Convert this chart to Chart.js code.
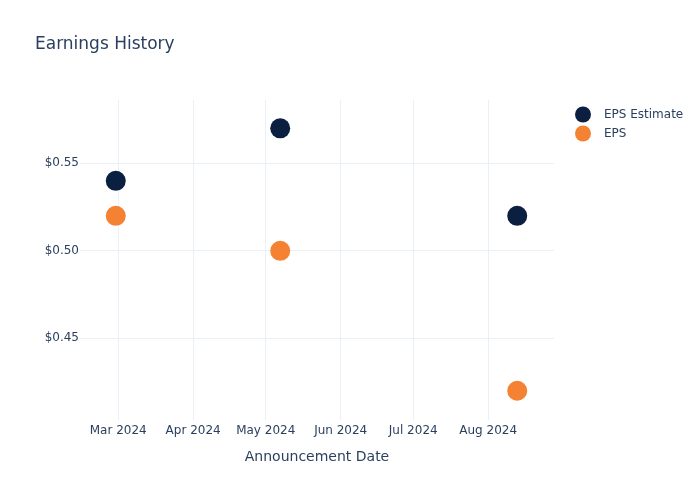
<!DOCTYPE html>
<html>
<head>
<meta charset="utf-8">
<script src="https://cdn.jsdelivr.net/npm/chart.js@4.4.1/dist/chart.umd.min.js"></script>
<style>
  html, body { margin: 0; padding: 0; background: #ffffff; }
  #wrap { width: 700px; height: 500px; position: relative; }
</style>
</head>
<body>
<div id="wrap"><canvas id="c" width="700" height="500"></canvas></div>
<script>
// ---- data ----
const chartTitle = 'Earnings History';
const xAxisTitle = 'Announcement Date';
const announcementDates = ['2024-02-29', '2024-05-07', '2024-08-13'];
const epsEstimate = [0.54, 0.57, 0.52];
const epsActual = [0.52, 0.50, 0.42];
const seriesNames = ['EPS Estimate', 'EPS'];
const seriesColors = ['#0b1f40', '#f58233'];
const monthTicks = ['2024-03-01', '2024-04-01', '2024-05-01', '2024-06-01', '2024-07-01', '2024-08-01'];
const yTicks = [0.45, 0.50, 0.55];
const xRange = ['2024-02-14T05:00', '2024-08-28T05:00'];
const yRange = [0.4033, 0.5862];
const monthNames = ['Jan','Feb','Mar','Apr','May','Jun','Jul','Aug','Sep','Oct','Nov','Dec'];

const toMs = s => Date.parse(s + (s.length === 10 ? 'T00:00:00Z' : ':00Z'));
const fmtMonth = v => { const d = new Date(v); return monthNames[d.getUTCMonth()] + ' ' + d.getUTCFullYear(); };

const textColor = '#2a3f5f';
const gridColor = '#ebf0f8';
const FONT = "'DejaVu Sans', sans-serif";

const titlePlugin = {
  id: 'customText',
  afterDraw(chart) {
    const ctx = chart.ctx;
    ctx.save();
    ctx.fillStyle = textColor;
    ctx.font = '17px ' + FONT;
    ctx.textAlign = 'left';
    ctx.textBaseline = 'middle';
    ctx.fillText(chartTitle, 35, 45);
    // legend
    ctx.font = '12px ' + FONT;
    seriesNames.forEach((name, i) => {
      const y = 114.5 + i * 19;
      ctx.beginPath();
      ctx.arc(583, y, 8, 0, Math.PI * 2);
      ctx.fillStyle = seriesColors[i];
      ctx.fill();
      ctx.fillStyle = textColor;
      ctx.fillText(name, 604, y);
    });
    ctx.restore();
  }
};

new Chart(document.getElementById('c'), {
  type: 'scatter',
  data: {
    datasets: [
      {
        label: seriesNames[0],
        data: announcementDates.map((d, i) => ({ x: toMs(d), y: epsEstimate[i] })),
        backgroundColor: seriesColors[0],
        borderColor: seriesColors[0],
        pointRadius: 10,
        pointHoverRadius: 10,
        borderWidth: 0
      },
      {
        label: seriesNames[1],
        data: announcementDates.map((d, i) => ({ x: toMs(d), y: epsActual[i] })),
        backgroundColor: seriesColors[1],
        borderColor: seriesColors[1],
        pointRadius: 10,
        pointHoverRadius: 10,
        borderWidth: 0
      }
    ]
  },
  options: {
    responsive: false,
    animation: false,
    layout: { padding: { top: 100, right: 146, bottom: 34, left: 0 } },
    plugins: {
      legend: { display: false },
      title: { display: false },
      tooltip: { enabled: false }
    },
    scales: {
      x: {
        type: 'linear',
        min: toMs(xRange[0]),
        max: toMs(xRange[1]),
        afterBuildTicks: s => { s.ticks = monthTicks.map(m => ({ value: toMs(m) })); },
        afterFit: s => { s.height = 46; },
        grid: { color: gridColor, drawTicks: false, lineWidth: 1 },
        border: { display: false },
        ticks: {
          color: textColor,
          font: { family: FONT, size: 12 },
          padding: 4,
          maxRotation: 0,
          autoSkip: false,
          callback: v => fmtMonth(v)
        },
        title: {
          display: true,
          text: xAxisTitle,
          color: textColor,
          font: { family: FONT, size: 14 },
          padding: { top: 0, bottom: 0 }
        }
      },
      y: {
        min: yRange[0],
        max: yRange[1],
        afterBuildTicks: s => { s.ticks = yTicks.map(v => ({ value: v })); },
        afterFit: s => { s.width = 80; },
        grid: { color: gridColor, drawTicks: false, lineWidth: 1 },
        border: { display: false },
        ticks: {
          color: textColor,
          font: { family: FONT, size: 12 },
          padding: 1,
          callback: v => '$' + Number(v).toFixed(2)
        }
      }
    }
  },
  plugins: [titlePlugin]
});
</script>
</body>
</html>
